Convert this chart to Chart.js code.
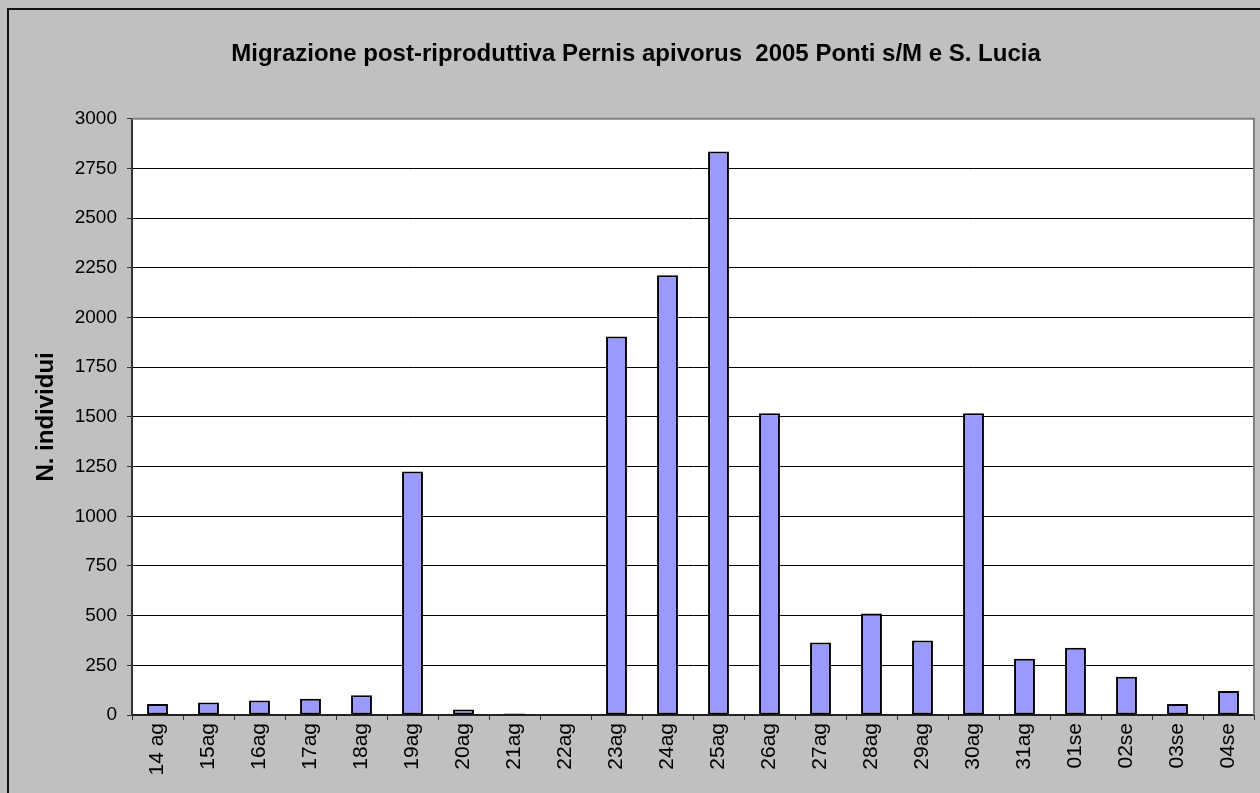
<!DOCTYPE html>
<html>
<head>
<meta charset="utf-8">
<script src="https://cdn.jsdelivr.net/npm/chart.js@4"></script>
<style>
  html, body { margin: 0; padding: 0; background: #c0c0c0; }
  canvas { display: block; }
</style>
</head>
<body>
<canvas id="migChart" width="1260" height="793"></canvas>
<script>
// Data
const days = ['14 ag', '15ag', '16ag', '17ag', '18ag', '19ag', '20ag', '21ag', '22ag', '23ag', '24ag',
    '25ag', '26ag', '27ag', '28ag', '29ag', '30ag', '31ag', '01se', '02se', '03se', '04se'];
const individui = [55, 63, 73, 82, 99, 1225, 28, 8, 0, 1905, 2213,
    2835, 1518, 365, 511, 375, 1518, 283, 339, 193, 55, 121];
const yMax = 3000;
const yStep = 250;

const FONT = "'Liberation Sans', Arial, sans-serif";

// background, plot area and borders like the Excel chart
const excelFrame = {
    id: 'excelFrame',
    beforeDraw(chart) {
        const { ctx, chartArea: a, width, height } = chart;
        ctx.save();
        ctx.fillStyle = '#c0c0c0';
        ctx.fillRect(0, 0, width, height);
        ctx.fillStyle = '#ffffff';
        ctx.fillRect(a.left, a.top, a.right - a.left, a.bottom - a.top);
        ctx.restore();
    },
    afterDraw(chart) {
        const { ctx, chartArea: a, width, height } = chart;
        ctx.save();
        // plot area border (top / right)
        ctx.strokeStyle = '#808080';
        ctx.lineWidth = 2;
        ctx.beginPath();
        ctx.moveTo(a.left, a.top);
        ctx.lineTo(a.right, a.top);
        ctx.lineTo(a.right, a.bottom);
        ctx.stroke();
        // outer chart border
        ctx.strokeStyle = '#111';
        ctx.lineWidth = 2;
        ctx.beginPath();
        ctx.moveTo(8, height);
        ctx.lineTo(8, 9);
        ctx.lineTo(width, 9);
        ctx.stroke();
        ctx.restore();
    }
};

const ctx = document.getElementById('migChart').getContext('2d');
new Chart(ctx, {
    type: 'bar',
    data: {
        labels: days,
        datasets: [{
            label: 'N. individui',
            data: individui,
            backgroundColor: '#9999ff',
            borderColor: '#000000',
            borderWidth: 2,
            borderSkipped: false,
            barPercentage: 0.41,
            categoryPercentage: 1.0
        }]
    },
    options: {
        responsive: false,
        animation: false,
        devicePixelRatio: 1,
        layout: { padding: { left: 18, right: 6, top: 0, bottom: 0 } },
        plugins: {
            legend: { display: false },
            tooltip: { enabled: false },
            title: {
                display: true,
                text: 'Migrazione post-riproduttiva Pernis apivorus  2005 Ponti s/M e S. Lucia',
                color: '#000',
                font: { family: FONT, size: 24, weight: 'bold' },
                padding: { top: 40, bottom: 50 }
            }
        },
        scales: {
            x: {
                grid: {
                    offset: true,
                    drawOnChartArea: false,
                    tickLength: 5,
                    tickColor: '#333'
                },
                border: { color: '#222', width: 2 },
                ticks: {
                    autoSkip: false,
                    minRotation: 90,
                    maxRotation: 90,
                    padding: 3,
                    color: '#000',
                    font: { family: FONT, size: 21 }
                },
                afterFit(scale) { scale.height = 78; }
            },
            y: {
                min: 0,
                max: yMax,
                grid: {
                    color: '#000',
                    lineWidth: 1,
                    tickLength: 5,
                    tickColor: '#333'
                },
                border: { color: '#333', width: 2 },
                ticks: {
                    stepSize: yStep,
                    padding: 10,
                    color: '#000',
                    font: { family: FONT, size: 19 },
                    callback: (value) => String(value)
                },
                title: {
                    display: true,
                    text: 'N. individui',
                    color: '#000',
                    font: { family: FONT, size: 24, weight: 'bold' },
                    padding: { top: 14, bottom: 0 }
                },
                afterFit(scale) { scale.width = 114; }
            }
        }
    },
    plugins: [excelFrame]
});
</script>
</body>
</html>
